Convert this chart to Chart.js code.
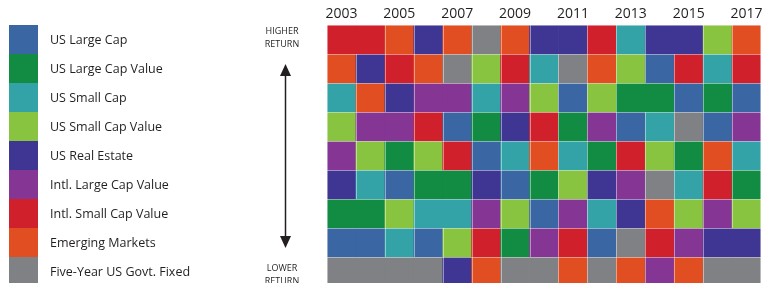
<!DOCTYPE html>
<html>
<head>
<meta charset="utf-8">
<script src="https://cdn.jsdelivr.net/npm/chart.js@4/dist/chart.umd.min.js"></script>
<style>
  html, body { margin: 0; padding: 0; background: #fff; overflow: hidden; }
  #wrap { width: 767px; height: 283px; position: relative; }
</style>
</head>
<body>
<div id="wrap"><canvas id="grille"></canvas></div>
<script>
// Donnees
var years = ['2003','2004','2005','2006','2007','2008','2009','2010','2011','2012','2013','2014','2015','2016','2017'];
var classCodes = ['LC','LCV','SC','SCV','RE','ILV','ISV','EM','FI'];
var classNames = ['US Large Cap','US Large Cap Value','US Small Cap','US Small Cap Value','US Real Estate',
                  'Intl. Large Cap Value','Intl. Small Cap Value','Emerging Markets','Five-Year US Govt. Fixed'];
var classColors = ['#3a66a4','#128c43','#33a3a7','#89c441','#3f3694','#853594','#cf202b','#e04e21','#808184'];

// rang 1 (meilleur) -> rang 9, une valeur par annee
var rank1 = ['ISV','ISV','EM','RE','EM','FI','EM','RE','RE','ISV','SC','RE','RE','SCV','EM'];
var rank2 = ['EM','RE','ISV','EM','FI','SCV','ISV','SC','FI','EM','SCV','LC','ISV','SC','ISV'];
var rank3 = ['SC','EM','RE','ILV','ILV','SC','ILV','SCV','LC','SCV','LCV','LCV','LC','LCV','LC'];
var rank4 = ['SCV','ILV','ILV','ISV','LC','LCV','RE','ISV','LCV','ILV','LC','SC','FI','LC','ILV'];
var rank5 = ['ILV','SCV','LCV','SCV','ISV','LC','SC','EM','SC','LCV','ISV','SCV','LCV','EM','SC'];
var rank6 = ['RE','SC','LC','LCV','LCV','RE','LC','LCV','SCV','RE','ILV','FI','SC','ISV','LCV'];
var rank7 = ['LCV','LCV','SCV','SC','SC','ILV','SCV','LC','ILV','SC','RE','EM','SCV','ILV','SCV'];
var rank8 = ['LC','LC','SC','LC','SCV','ISV','LCV','ILV','ISV','LC','FI','ISV','ILV','RE','RE'];
var rank9 = ['FI','FI','FI','FI','RE','EM','FI','FI','EM','FI','EM','ILV','EM','FI','FI'];
var rankRows = [rank1, rank2, rank3, rank4, rank5, rank6, rank7, rank8, rank9];

var couleurTexte = '#231f20';

function couleurDe(code){
    return classColors[classCodes.indexOf(code)];
}

// un dataset par rang, barres flottantes [r, r+1]
var datasets = [];
for (var r = 0; r < rankRows.length; r++){
    datasets.push({
        label: 'Rang ' + (r+1),
        data: years.map(function(){ return [r, r+1]; }),
        backgroundColor: rankRows[r].map(couleurDe),
        borderWidth: 0,
        barPercentage: 1,
        categoryPercentage: 1
    });
}

// traits clairs entre cellules de couleurs differentes
var pluginSeparateurs = {
    id: 'separateurs',
    afterDatasetsDraw: function(chart){
        var ctx = chart.ctx;
        var sx = chart.scales.x, sy = chart.scales.y;
        var w = sx.getPixelForValue(1) - sx.getPixelForValue(0);
        ctx.save();
        ctx.beginPath();
        ctx.rect(chart.chartArea.left - 1, chart.chartArea.top - 1, chart.chartArea.right - chart.chartArea.left + 2, chart.chartArea.bottom - chart.chartArea.top + 2);
        ctx.clip();
        ctx.strokeStyle = 'rgba(255,255,255,0.45)';
        ctx.lineWidth = 1;
        ctx.beginPath();
        for (var r = 0; r < rankRows.length; r++){
            var y0 = sy.getPixelForValue(r), y1 = sy.getPixelForValue(r+1);
            for (var i = 0; i < years.length; i++){
                var c = rankRows[r][i];
                var x0 = sx.getPixelForValue(i) - w/2, x1 = x0 + w;
                if (i == 0 || rankRows[r][i-1] != c){
                    var xl = Math.round(x0) + 0.5;
                    ctx.moveTo(xl, y0); ctx.lineTo(xl, y1);
                }
                if (i == years.length - 1){
                    var xr = Math.round(x1) - 0.5;
                    ctx.moveTo(xr, y0); ctx.lineTo(xr, y1);
                }
                if (r == 0 || rankRows[r-1][i] != c){
                    var yt = Math.round(y0) + 0.5;
                    ctx.moveTo(x0, yt); ctx.lineTo(x1, yt);
                }
            }
        }
        ctx.stroke();
        ctx.restore();
    }
};

// legende + fleche dessinees a cote de la grille
var pluginLegende = {
    id: 'legendeGauche',
    afterDraw: function(chart){
        var ctx = chart.ctx;
        var y = chart.scales.y;
        ctx.save();
        for (var k = 0; k < classNames.length; k++){
            var y0 = y.getPixelForValue(k), y1 = y.getPixelForValue(k+1);
            ctx.fillStyle = classColors[k];
            ctx.fillRect(9, Math.round(y0), 29, Math.round(y1) - Math.round(y0));
            ctx.fillStyle = couleurTexte;
            ctx.font = '12.5px "Open Sans"';
            ctx.textBaseline = 'middle';
            ctx.textAlign = 'left';
            ctx.fillText(classNames[k], 50, (y0 + y1) / 2 + 1);
        }
        // fleche
        var xf = 285.5;
        var haut = 64, bas = 248;
        ctx.strokeStyle = couleurTexte;
        ctx.lineWidth = 1.5;
        ctx.beginPath();
        ctx.moveTo(xf, haut + 8);
        ctx.lineTo(xf, bas - 8);
        ctx.stroke();
        ctx.fillStyle = couleurTexte;
        ctx.beginPath();
        ctx.moveTo(xf, haut); ctx.lineTo(xf - 5.5, haut + 12); ctx.lineTo(xf + 5.5, haut + 12); ctx.closePath();
        ctx.fill();
        ctx.beginPath();
        ctx.moveTo(xf, bas); ctx.lineTo(xf - 5.5, bas - 12); ctx.lineTo(xf + 5.5, bas - 12); ctx.closePath();
        ctx.fill();
        ctx.font = '9px "Open Sans"';
        ctx.textAlign = 'center';
        ctx.fillText('HIGHER', 282, 31);
        ctx.fillText('RETURN', 282, 44);
        ctx.fillText('LOWER', 282, 268);
        ctx.fillText('RETURN', 282, 281);
        ctx.restore();
    }
};

new Chart(document.getElementById('grille').getContext('2d'), {
    type: 'bar',
    data: { labels: years, datasets: datasets },
    options: {
        responsive: true,
        maintainAspectRatio: false,
        animation: false,
        layout: { padding: { left: 327, right: 6, top: 0, bottom: 0 } },
        plugins: { legend: { display: false }, tooltip: { enabled: false } },
        scales: {
            x: {
                position: 'top',
                stacked: true,
                grid: { display: false, drawTicks: false },
                border: { display: false },
                afterFit: function(s){ s.height = 25; },
                ticks: {
                    autoSkip: false,
                    maxRotation: 0,
                    padding: 3,
                    color: couleurTexte,
                    font: { family: '"Open Sans"', size: 14 },
                    callback: function(v, i){ return i % 2 == 0 ? years[i] : ''; }
                }
            },
            y: {
                display: false,
                stacked: false,
                reverse: true,
                min: 0,
                max: 8.9
            }
        }
    },
    plugins: [pluginSeparateurs, pluginLegende]
});
</script>
</body>
</html>
